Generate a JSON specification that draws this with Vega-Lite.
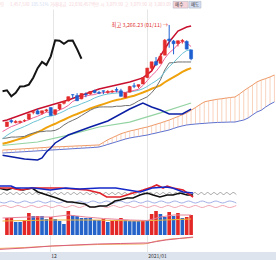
{
"$schema":"https://vega.github.io/schema/vega-lite/v6.json",
"padding":0,
"spacing":0,
"background":"white",
"config":{"view":{"stroke":null},"mark":{"invalid":"filter"},"line":{"invalid":"filter"},"rule":{"invalid":"filter"},"axis":{"domain":false,"ticks":false,"labels":false,"minExtent":0,"maxExtent":0,"gridColor":"#e6e6e6","gridWidth":1},"text":{"font":"Noto Sans CJK KR"}},
"resolve":{"scale":{"x":"independent","y":"independent","color":"independent"}},
"datasets":{
"hd":[{"col":0,"t":"량","k":"t"},{"col":3.33,"t":"1,457,530","k":"t"},{"col":10.33,"t":"105.51%","k":"r"},{"col":16.67,"t":"거래대금","k":"t"},{"col":23,"t":"22,830,457백만","k":"t"},{"col":33.5,"t":"시","k":"t"},{"col":35.33,"t":"3,079.90","k":"b"},{"col":41.5,"t":"고","k":"t"},{"col":43.33,"t":"3,079.90","k":"b"},{"col":49.5,"t":"저","k":"t"},{"col":51.33,"t":"3,003.09","k":"b"}],
"bt":[{"col":57.7,"col2":62.7,"t":"매수"},{"col":63,"col2":67,"t":"매도"}],
"cd":[{"i":0,"o":2509,"h":2543,"l":2505,"c":2543},{"i":1,"o":2553,"h":2563,"l":2533,"c":2544},{"i":2,"o":2538,"h":2556,"l":2532,"c":2546},{"i":3,"o":2540,"h":2553,"l":2531,"c":2547},{"i":4,"o":2553,"h":2562,"l":2542,"c":2554},{"i":5,"o":2564,"h":2602,"l":2560,"c":2603},{"i":6,"o":2615,"h":2630,"l":2600,"c":2618},{"i":7,"o":2625,"h":2640,"l":2600,"c":2602},{"i":8,"o":2608,"h":2626,"l":2596,"c":2626},{"i":9,"o":2625,"h":2640,"l":2616,"c":2633},{"i":10,"o":2650,"h":2650,"l":2591,"c":2591},{"i":11,"o":2600,"h":2634,"l":2592,"c":2634},{"i":12,"o":2640,"h":2676,"l":2630,"c":2676},{"i":13,"o":2682,"h":2699,"l":2673,"c":2696},{"i":14,"o":2700,"h":2731,"l":2695,"c":2731},{"i":15,"o":2746,"h":2748,"l":2720,"c":2745},{"i":16,"o":2739,"h":2757,"l":2700,"c":2701},{"i":17,"o":2715,"h":2756,"l":2712,"c":2755},{"i":18,"o":2750,"h":2763,"l":2727,"c":2746},{"i":19,"o":2752,"h":2772,"l":2745,"c":2770},{"i":20,"o":2776,"h":2783,"l":2756,"c":2762},{"i":21,"o":2762,"h":2775,"l":2750,"c":2757},{"i":22,"o":2775,"h":2776,"l":2750,"c":2772},{"i":23,"o":2763,"h":2780,"l":2753,"c":2770},{"i":24,"o":2767,"h":2782,"l":2760,"c":2772},{"i":25,"o":2785,"h":2800,"l":2763,"c":2779},{"i":26,"o":2775,"h":2790,"l":2733,"c":2734},{"i":27,"o":2726,"h":2760,"l":2725,"c":2760},{"i":28,"o":2765,"h":2812,"l":2763,"c":2807},{"i":29,"o":2812,"h":2834,"l":2795,"c":2809},{"i":30,"o":2808,"h":2821,"l":2794,"c":2821},{"i":31,"o":2826,"h":2878,"l":2826,"c":2873},{"i":32,"o":2874,"h":2946,"l":2869,"c":2944},{"i":33,"o":2943,"h":2990,"l":2921,"c":2991},{"i":34,"o":2993,"h":3027,"l":2961,"c":2968},{"i":35,"o":2980,"h":3055,"l":2980,"c":3032},{"i":36,"o":3041,"h":3161,"l":3040,"c":3152},{"i":37,"o":3161,"h":3266,"l":3096,"c":3148},{"i":38,"o":3145,"h":3154,"l":3047,"c":3126},{"i":39,"o":3128,"h":3150,"l":3106,"c":3148},{"i":40,"o":3145,"h":3161,"l":3127,"c":3150},{"i":41,"o":3143,"h":3151,"l":3085,"c":3086},{"i":42,"o":3080,"h":3080,"l":3003,"c":3014}],
"px":[
{"i":-1,"ma5":2471,"ma10":2418,"ma20":2380,"kij":2420,"ma60":2368,"bbu":2550,"bbl":2295,"chi":2772,"a":2333,"b":2311},
{"i":0,"ma5":2490,"ma10":2443,"ma20":2388,"kij":2423,"ma60":2371,"bbu":2557,"bbl":2289,"chi":2779,"a":2335,"b":2313},
{"i":1,"ma5":2508,"ma10":2463,"ma20":2397,"kij":2430,"chi":2734,"a":2337,"b":2315},
{"i":2,"ma5":2520,"ma10":2482,"ma20":2407,"kij":2430,"chi":2760,"a":2339,"b":2317},
{"i":3,"ma5":2535,"ma10":2495,"ma20":2417,"kij":2432,"chi":2807,"a":2341,"b":2319},
{"i":4,"ma5":2547,"ma10":2509,"ma20":2427,"kij":2435,"bbl":2266,"chi":2809,"a":2343,"b":2321},
{"i":5,"ma5":2559,"ma10":2524,"ma20":2440,"kij":2450,"chi":2821,"a":2345,"b":2323},
{"i":6,"ma5":2574,"ma10":2541,"ma20":2454,"kij":2460,"chi":2873,"a":2347,"b":2325},
{"i":7,"ma5":2585,"ma10":2553,"ma20":2467,"kij":2470,"ma60":2393,"bbu":2639,"bbl":2259,"chi":2944,"a":2349,"b":2327},
{"i":8,"ma5":2601,"ma10":2568,"ma20":2482,"kij":2470,"bbl":2274,"chi":2991,"a":2351,"b":2329},
{"i":9,"ma5":2616,"ma10":2582,"ma20":2500,"kij":2475,"bbl":2319,"chi":2968,"a":2353,"b":2331},
{"i":10,"ma5":2614,"ma10":2586,"ma20":2515,"kij":2475,"bbl":2348,"chi":3032,"a":2356,"b":2333},
{"i":11,"ma5":2617,"ma10":2595,"ma20":2529,"kij":2480,"bbl":2386,"chi":3152,"a":2357,"b":2335},
{"i":12,"ma5":2632,"ma10":2608,"ma20":2545,"kij":2495,"chi":3148,"a":2358,"b":2337},
{"i":13,"ma5":2646,"ma10":2623,"ma20":2559,"kij":2520,"chi":3126,"a":2359,"b":2339},
{"i":14,"ma5":2666,"ma10":2641,"ma20":2575,"kij":2540,"ma60":2445,"bbu":2706,"bbl":2445,"chi":3148,"a":2361,"b":2341},
{"i":15,"ma5":2696,"ma10":2655,"ma20":2590,"kij":2555,"chi":3150,"a":2362,"b":2343},
{"i":16,"ma5":2710,"ma10":2664,"ma20":2602,"kij":2570,"chi":3086,"a":2364,"b":2345},
{"i":17,"ma5":2726,"ma10":2679,"ma20":2616,"kij":2590,"chi":3014,"a":2365,"b":2347},
{"i":18,"ma5":2736,"ma10":2691,"ma20":2629,"kij":2610,"a":2367,"b":2349},
{"i":19,"ma5":2743,"ma10":2705,"ma20":2643,"kij":2630,"bbl":2505,"a":2368,"b":2351},
{"i":20,"ma5":2747,"ma10":2722,"ma20":2654,"kij":2645,"a":2370,"b":2353},
{"i":21,"ma5":2758,"ma10":2734,"ma20":2665,"kij":2654,"ma60":2505,"bbu":2789,"a":2371,"b":2356},
{"i":22,"ma5":2761,"ma10":2744,"ma20":2676,"kij":2655,"a":2390,"b":2365},
{"i":23,"ma5":2766,"ma10":2751,"ma20":2687,"kij":2655,"bbl":2550,"a":2410,"b":2375},
{"i":24,"ma5":2767,"ma10":2755,"ma20":2698,"kij":2655,"a":2425,"b":2385},
{"i":25,"ma5":2770,"ma10":2758,"ma20":2707,"kij":2660,"a":2440,"b":2395},
{"i":26,"ma5":2765,"ma10":2762,"ma20":2713,"kij":2660,"a":2455,"b":2405},
{"i":27,"ma5":2763,"ma10":2762,"ma20":2721,"kij":2665,"a":2465,"b":2415},
{"i":28,"ma5":2770,"ma10":2768,"ma20":2730,"kij":2665,"ma60":2542,"bbu":2841,"bbl":2639,"a":2475,"b":2423},
{"i":29,"ma5":2778,"ma10":2772,"ma20":2738,"kij":2680,"a":2482,"b":2429},
{"i":30,"ma5":2786,"ma10":2778,"ma20":2750,"kij":2700,"a":2490,"b":2434},
{"i":31,"ma5":2814,"ma10":2790,"ma20":2762,"kij":2715,"bbu":2871,"bbl":2684,"a":2498,"b":2440},
{"i":32,"ma5":2851,"ma10":2807,"ma20":2775,"kij":2730,"a":2505,"b":2445},
{"i":33,"ma5":2888,"ma10":2829,"ma20":2790,"kij":2760,"bbu":2923,"bbl":2654,"a":2515,"b":2453},
{"i":34,"ma5":2919,"ma10":2849,"ma20":2802,"kij":2800,"a":2525,"b":2460},
{"i":35,"ma5":2962,"ma10":2874,"ma20":2816,"kij":2856,"ma60":2610,"bbu":3035,"bbl":2632,"a":2535,"b":2468},
{"i":36,"ma5":3017,"ma10":2916,"ma20":2839,"kij":2930,"a":2546,"b":2475},
{"i":37,"ma5":3058,"ma10":2955,"ma20":2858,"kij":2983,"bbu":3139,"bbl":2602,"a":2557,"b":2483},
{"i":38,"ma5":3085,"ma10":2986,"ma20":2877,"kij":2985,"a":2570,"b":2494},
{"i":39,"ma5":3121,"ma10":3020,"ma20":2896,"kij":2990,"bbu":3221,"a":2583,"b":2505},
{"i":40,"ma5":3145,"ma10":3053,"ma20":2916,"kij":2990,"bbl":2602,"a":2596,"b":2513},
{"i":41,"ma5":3132,"ma10":3075,"ma20":2932,"kij":2990,"bbu":3251,"a":2610,"b":2520},
{"i":42,"ma5":3105,"ma10":3082,"ma20":2944,"kij":2990,"ma60":2684,"bbu":3258,"bbl":2639,"a":2630,"b":2524},
{"i":43,"a":2650,"b":2527},{"i":44,"a":2672,"b":2530},{"i":45,"a":2692,"b":2532},{"i":46,"a":2700,"b":2535},{"i":47,"a":2706,"b":2537},{"i":48,"a":2712,"b":2539},{"i":49,"a":2716,"b":2540},{"i":50,"a":2721,"b":2541},{"i":51,"a":2725,"b":2542},{"i":52,"a":2729,"b":2542},{"i":53,"a":2750,"b":2550},{"i":54,"a":2775,"b":2557},{"i":55,"a":2797,"b":2572},{"i":56,"a":2818,"b":2595},{"i":57,"a":2841,"b":2617},{"i":58,"a":2855,"b":2630},{"i":59,"a":2866,"b":2654},{"i":60,"a":2878,"b":2675},{"i":61,"a":2893,"b":2692}],
"ann":[{"i":37,"p":3266.23,"t":"최고 3,266.23 (01/11) →"}],
"ind":[
{"i":-1,"bl":92},{"i":2,"bl":92},{"i":3,"bl":84},{"i":5,"bl":84},{"i":7,"bl":84},{"i":10.6,"bl":76},{"i":14,"bl":84},{"i":17,"bl":80},{"i":21.5,"bl":84},{"i":25,"bl":84},{"i":29,"bl":72},{"i":30.4,"bl":68},{"i":33,"bl":84},{"i":36,"bl":88},{"i":37.5,"bl":84},{"i":39.8,"bl":68},{"i":42,"bl":64},
{"i":-1,"rd":84},{"i":2,"rd":84},{"i":4,"rd":76},{"i":7,"rd":84},{"i":10,"rd":84},{"i":12.7,"rd":84},{"i":15.6,"rd":80},{"i":18.7,"rd":76},{"i":21.5,"rd":64},{"i":23,"rd":48},{"i":26,"rd":48},{"i":28.8,"rd":64},{"i":31,"rd":76},{"i":33,"rd":88},{"i":34,"rd":96},{"i":35.4,"rd":84},{"i":36.3,"rd":92},{"i":37.6,"rd":84},{"i":39.8,"rd":76},{"i":42,"rd":48},
{"i":-1,"bk":84},{"i":1.1,"bk":76},{"i":2.4,"bk":84},{"i":4.6,"bk":76},{"i":6.6,"bk":84},{"i":7.9,"bk":68},{"i":9.9,"bk":56},{"i":12,"bk":44},{"i":14.3,"bk":28},{"i":15.4,"bk":28},{"i":16.7,"bk":24},{"i":18.2,"bk":20},{"i":19.3,"bk":8},{"i":20.4,"bk":8},{"i":21.5,"bk":12},{"i":23,"bk":12},{"i":24.2,"bk":24},{"i":24.8,"bk":32},{"i":25.9,"bk":36},{"i":27.5,"bk":44},{"i":28.8,"bk":44},{"i":30.3,"bk":56},{"i":31.9,"bk":64},{"i":33.2,"bk":56},{"i":34.7,"bk":48},{"i":36.3,"bk":56},{"i":37.6,"bk":56},{"i":39.1,"bk":64},{"i":40.7,"bk":56},{"i":42,"bk":56}],
"gw":[{"i":-1,"v":66},{"i":-0.3,"v":58},{"i":0.4,"v":66},{"i":1.1,"v":58},{"i":1.8,"v":66},{"i":2.5,"v":58},{"i":3.2,"v":66},{"i":3.9,"v":58},{"i":4.6,"v":66},{"i":5.3,"v":58},{"i":6,"v":66},{"i":6.7,"v":58},{"i":7.4,"v":66},{"i":8.1,"v":58},{"i":8.8,"v":66},{"i":9.5,"v":58},{"i":10.2,"v":66},{"i":10.9,"v":58},{"i":11.6,"v":66},{"i":12.3,"v":58},{"i":13,"v":66},{"i":13.7,"v":58},{"i":14.4,"v":66},{"i":15.1,"v":58},{"i":15.8,"v":66},{"i":16.5,"v":58},{"i":17.2,"v":66},{"i":17.9,"v":58},{"i":18.6,"v":66},{"i":19.3,"v":58},{"i":20,"v":66},{"i":20.7,"v":58},{"i":21.4,"v":66},{"i":22.1,"v":58},{"i":22.8,"v":66},{"i":23.5,"v":58},{"i":24.2,"v":66},{"i":24.9,"v":58},{"i":25.6,"v":66},{"i":26.3,"v":58},{"i":27,"v":66},{"i":27.7,"v":58},{"i":28.4,"v":66},{"i":29.1,"v":58},{"i":29.8,"v":66},{"i":30.5,"v":58},{"i":31.2,"v":66},{"i":31.9,"v":58},{"i":32.6,"v":66},{"i":33.3,"v":58},{"i":34,"v":66},{"i":34.7,"v":58},{"i":35.4,"v":66},{"i":36.1,"v":58},{"i":36.8,"v":66},{"i":37.5,"v":58},{"i":38.2,"v":66},{"i":38.9,"v":58},{"i":39.6,"v":66},{"i":40.3,"v":58},{"i":41,"v":66},{"i":41.7,"v":58},{"i":42.4,"v":66},{"i":43.1,"v":58},{"i":43.8,"v":66},{"i":44.5,"v":58},{"i":45.2,"v":66},{"i":45.9,"v":58},{"i":46.6,"v":66},{"i":47.3,"v":58},{"i":48,"v":66},{"i":48.7,"v":58},{"i":49.4,"v":66},{"i":50.1,"v":58},{"i":50.8,"v":66},{"i":51.5,"v":58}],
"wv":[{"i":-1,"b":32,"p":6},{"i":0.5,"b":24,"p":14},{"i":2,"b":32,"p":6},{"i":3.5,"b":24,"p":14},{"i":5,"b":32,"p":6},{"i":6.5,"b":24,"p":14},{"i":8,"b":32,"p":6},{"i":9.5,"b":24,"p":14},{"i":11,"b":32,"p":6},{"i":12.5,"b":24,"p":14},{"i":14,"b":32,"p":6},{"i":15.5,"b":24,"p":14},{"i":17,"b":32,"p":6},{"i":18.5,"b":24,"p":14},{"i":20,"b":32,"p":6},{"i":21.5,"b":24,"p":14},{"i":23,"b":32,"p":6},{"i":24.5,"b":24,"p":14},{"i":26,"b":32,"p":6},{"i":27.5,"b":24,"p":14},{"i":29,"b":32,"p":6},{"i":30.5,"b":24,"p":14},{"i":32,"b":32,"p":6},{"i":33.5,"b":24,"p":14},{"i":35,"b":32,"p":6},{"i":36.5,"b":24,"p":14},{"i":38,"b":32,"p":6},{"i":39.5,"b":24,"p":14},{"i":41,"b":32,"p":6},{"i":42.5,"b":24,"p":14},{"i":44,"b":32,"p":6},{"i":45.5,"b":24,"p":14},{"i":47,"b":32,"p":6},{"i":48.5,"b":24,"p":14},{"i":50,"b":32,"p":6},{"i":51.5,"b":24,"p":14}],
"vo":[{"i":0,"v":1238892,"u":1},{"i":1,"v":1238892,"u":1},{"i":2,"v":947388,"u":0},{"i":3,"v":947388,"u":0},{"i":4,"v":1093140,"u":1},{"i":5,"v":1603272,"u":1},{"i":6,"v":1384644,"u":0},{"i":7,"v":1384644,"u":1},{"i":8,"v":1384644,"u":0},{"i":9,"v":1166016,"u":0},{"i":10,"v":1311768,"u":1},{"i":11,"v":1166016,"u":0},{"i":12,"v":1020264,"u":0},{"i":13,"v":801636,"u":0},{"i":14,"v":1749024,"u":1},{"i":15,"v":1457530,"u":0},{"i":16,"v":1384644,"u":0},{"i":17,"v":1238892,"u":0},{"i":18,"v":1238892,"u":0},{"i":19,"v":1238892,"u":0},{"i":20,"v":1093140,"u":0},{"i":21,"v":1093140,"u":0},{"i":22,"v":1166016,"u":1},{"i":23,"v":947388,"u":0},{"i":24,"v":1020264,"u":1},{"i":25,"v":1093140,"u":1},{"i":26,"v":1238892,"u":1},{"i":27,"v":1093140,"u":0},{"i":28,"v":1020264,"u":0},{"i":29,"v":1020264,"u":0},{"i":30,"v":1020264,"u":0},{"i":31,"v":1020264,"u":1},{"i":32,"v":1020264,"u":0},{"i":33,"v":1530396,"u":1},{"i":34,"v":1749024,"u":1},{"i":35,"v":1530396,"u":0},{"i":36,"v":1311768,"u":0},{"i":37,"v":1676148,"u":1},{"i":38,"v":1384644,"u":0},{"i":39,"v":1603272,"u":1},{"i":40,"v":1238892,"u":0},{"i":41,"v":1311768,"u":1},{"i":42,"v":1457530,"u":1}],
"vm":[{"i":-1,"p":1238892,"o":1020264},{"i":5,"p":1311768},{"i":10,"p":1311768,"o":1093140},{"i":14,"p":1457530},{"i":18,"p":1311768},{"i":20,"o":1093140},{"i":22,"p":1202454},{"i":28,"p":1093140},{"i":30,"o":1020264},{"i":32,"p":1056702},{"i":35,"p":1311768},{"i":36,"o":1093140},{"i":38,"p":1457530},{"i":42,"p":1457530,"o":1166016}],
"lw":[{"i":-1,"p":25,"o":35},{"i":5,"p":40,"o":45},{"i":11,"p":60,"o":60},{"i":16,"p":70},{"i":21,"p":80,"o":75},{"i":26,"p":85},{"i":31,"p":90,"o":80},{"i":32,"p":90,"o":85},{"i":34,"p":105,"o":110},{"i":36,"p":120},{"i":37,"o":130},{"i":39,"p":135},{"i":42,"p":150,"o":145}],
"lb":[{"i":10.6,"t":"12"},{"i":31.9,"t":"2021/01"}]
},
"vconcat":[
{"width":276,"height":9,
 "layer":[
  {"data":{"name":"bt"},"mark":{"type":"rect","stroke":"#a9b0bd","strokeWidth":0.5},
   "encoding":{"x":{"field":"col","type":"quantitative","scale":{"domain":[0,92],"nice":false,"zero":false},"axis":null},"x2":{"field":"col2"},
   "y":{"datum":0.1,"type":"quantitative","scale":{"domain":[0,1],"nice":false,"zero":false},"axis":null},"y2":{"datum":0.85},
   "color":{"field":"t","type":"nominal","scale":{"domain":["매수","매도"],"range":["#f6d3d8","#d3def2"]},"legend":null}}},
  {"data":{"name":"bt"},"mark":{"type":"text","align":"left","baseline":"middle","dx":2,"fontSize":4.4,"color":"#333"},
   "encoding":{"x":{"field":"col","type":"quantitative","scale":{"domain":[0,92],"nice":false,"zero":false},"axis":null},
   "y":{"datum":0.47,"type":"quantitative","scale":{"domain":[0,1],"nice":false,"zero":false},"axis":null},"text":{"field":"t"}}},
  {"data":{"name":"hd"},"mark":{"type":"text","align":"left","baseline":"middle","fontSize":4.4},
   "encoding":{"x":{"field":"col","type":"quantitative","scale":{"domain":[0,92],"nice":false,"zero":false},"axis":null},
   "y":{"datum":0.47,"type":"quantitative","scale":{"domain":[0,1],"nice":false,"zero":false},"axis":null},"text":{"field":"t"},
   "color":{"field":"k","type":"nominal","scale":{"domain":["t","r","b"],"range":["#333333","#e0262b","#2a48c6"]},"legend":null}}}
 ]},
{"width":276,"height":175,
 "encoding":{"x":{"field":"i","type":"quantitative","scale":{"domain":[-0.44,60.22],"nice":false,"zero":false},"axis":{"grid":true,"values":[10.6,31.9],"title":null}}},
 "layer":[
  {"data":{"name":"px"},"mark":{"type":"rule","color":"#f7c0a2","strokeWidth":0.7,"clip":true},
   "encoding":{"y":{"field":"a","type":"quantitative","scale":{"domain":[2080,3385],"nice":false,"zero":false},"axis":{"grid":true,"values":[2100,2200,2300,2400,2500,2600,2700,2800,2900,3000,3100,3200,3300],"title":null}},"y2":{"field":"b"}}},
  {"data":{"name":"px"},"mark":{"type":"line","color":"#ee9a68","strokeWidth":1,"clip":true,"invalid":"filter"},
   "encoding":{"y":{"field":"a","type":"quantitative","scale":{"domain":[2080,3385],"nice":false,"zero":false},"axis":null}}},
  {"data":{"name":"px"},"mark":{"type":"line","color":"#5f72cf","strokeWidth":1,"clip":true,"invalid":"filter"},
   "encoding":{"y":{"field":"b","type":"quantitative","scale":{"domain":[2080,3385],"nice":false,"zero":false},"axis":null}}},
  {"data":{"name":"px"},"mark":{"type":"line","color":"#93d3a2","strokeWidth":1.2,"clip":true,"invalid":"filter"},
   "encoding":{"y":{"field":"ma60","type":"quantitative","scale":{"domain":[2080,3385],"nice":false,"zero":false},"axis":null}}},
  {"data":{"name":"px"},"mark":{"type":"line","color":"#0b1fa5","strokeWidth":1.5,"clip":true,"invalid":"filter"},
   "encoding":{"y":{"field":"bbl","type":"quantitative","scale":{"domain":[2080,3385],"nice":false,"zero":false},"axis":null}}},
  {"data":{"name":"px"},"mark":{"type":"line","color":"#efa20c","strokeWidth":2,"clip":true,"invalid":"filter"},
   "encoding":{"y":{"field":"ma20","type":"quantitative","scale":{"domain":[2080,3385],"nice":false,"zero":false},"axis":null}}},
  {"data":{"name":"px"},"mark":{"type":"line","color":"#707070","strokeWidth":1,"clip":true,"invalid":"filter"},
   "encoding":{"y":{"field":"kij","type":"quantitative","scale":{"domain":[2080,3385],"nice":false,"zero":false},"axis":null}}},
  {"data":{"name":"px"},"mark":{"type":"line","color":"#6cc3d5","strokeWidth":1,"clip":true,"invalid":"filter"},
   "encoding":{"y":{"field":"ma10","type":"quantitative","scale":{"domain":[2080,3385],"nice":false,"zero":false},"axis":null}}},
  {"data":{"name":"px"},"mark":{"type":"line","color":"#f0639a","strokeWidth":1,"clip":true,"invalid":"filter"},
   "encoding":{"y":{"field":"ma5","type":"quantitative","scale":{"domain":[2080,3385],"nice":false,"zero":false},"axis":null}}},
  {"data":{"name":"px"},"mark":{"type":"line","color":"#c8102e","strokeWidth":1.5,"clip":true,"invalid":"filter"},
   "encoding":{"y":{"field":"bbu","type":"quantitative","scale":{"domain":[2080,3385],"nice":false,"zero":false},"axis":null}}},
  {"data":{"name":"px"},"mark":{"type":"line","color":"#151515","strokeWidth":2,"clip":true,"invalid":"filter"},
   "encoding":{"y":{"field":"chi","type":"quantitative","scale":{"domain":[2080,3385],"nice":false,"zero":false},"axis":null}}},
  {"data":{"name":"cd"},"mark":{"type":"rule","strokeWidth":1,"clip":true},
   "encoding":{"y":{"field":"l","type":"quantitative","scale":{"domain":[2080,3385],"nice":false,"zero":false},"axis":null},"y2":{"field":"h"},
   "color":{"condition":{"test":"datum.c >= datum.o","value":"#e32b2b"},"value":"#1d5fd0"}}},
  {"data":{"name":"cd"},"mark":{"type":"bar","size":3,"strokeWidth":0.6,"clip":true},
   "encoding":{"y":{"field":"o","type":"quantitative","scale":{"domain":[2080,3385],"nice":false,"zero":false},"axis":null},"y2":{"field":"c"},
   "color":{"condition":{"test":"datum.c >= datum.o","value":"#e32b2b"},"value":"#1d5fd0"},
   "stroke":{"condition":{"test":"datum.c >= datum.o","value":"#e32b2b"},"value":"#1d5fd0"}}},
  {"data":{"name":"ann"},"mark":{"type":"text","align":"right","baseline":"middle","dx":-1,"fontSize":5.3,"color":"#e0302a","clip":true},
   "encoding":{"y":{"field":"p","type":"quantitative","scale":{"domain":[2080,3385],"nice":false,"zero":false},"axis":null},"text":{"field":"t"}}}
 ]},
{"width":276,"height":25,
 "encoding":{"x":{"field":"i","type":"quantitative","scale":{"domain":[-0.44,60.22],"nice":false,"zero":false},"axis":{"grid":true,"values":[10.6,31.9],"title":null}}},
 "layer":[
  {"data":{"name":"gw"},"mark":{"type":"line","color":"#8a8a8a","strokeWidth":0.8,"interpolate":"monotone","clip":true,"invalid":"filter"},
   "encoding":{"y":{"field":"v","type":"quantitative","scale":{"domain":[0,100],"nice":false,"zero":false},"axis":null}}},
  {"data":{"name":"wv"},"mark":{"type":"line","color":"#8b9be0","strokeWidth":0.8,"interpolate":"monotone","clip":true,"invalid":"filter"},
   "encoding":{"y":{"field":"b","type":"quantitative","scale":{"domain":[0,100],"nice":false,"zero":false},"axis":null}}},
  {"data":{"name":"wv"},"mark":{"type":"line","color":"#ec8f9f","strokeWidth":0.8,"interpolate":"monotone","clip":true,"invalid":"filter"},
   "encoding":{"y":{"field":"p","type":"quantitative","scale":{"domain":[0,100],"nice":false,"zero":false},"axis":null}}},
  {"data":{"name":"ind"},"mark":{"type":"line","color":"#111111","strokeWidth":1.6,"clip":true,"invalid":"filter"},
   "encoding":{"y":{"field":"bk","type":"quantitative","scale":{"domain":[0,100],"nice":false,"zero":false},"axis":null}}},
  {"data":{"name":"ind"},"mark":{"type":"line","color":"#e0222a","strokeWidth":1.6,"clip":true,"invalid":"filter"},
   "encoding":{"y":{"field":"rd","type":"quantitative","scale":{"domain":[0,100],"nice":false,"zero":false},"axis":null}}},
  {"data":{"name":"ind"},"mark":{"type":"line","color":"#1428c8","strokeWidth":1.6,"clip":true,"invalid":"filter"},
   "encoding":{"y":{"field":"bl","type":"quantitative","scale":{"domain":[0,100],"nice":false,"zero":false},"axis":null}}},
  {"mark":{"type":"rule","color":"#d2d2d2","strokeWidth":3,"clip":true},"encoding":{"y":{"datum":100,"type":"quantitative","scale":{"domain":[0,100],"nice":false,"zero":false},"axis":null}}}
 ]},
{"width":276,"height":26,
 "encoding":{"x":{"field":"i","type":"quantitative","scale":{"domain":[-0.44,60.22],"nice":false,"zero":false},"axis":{"grid":true,"values":[10.6,31.9],"title":null}}},
 "layer":[
  {"data":{"name":"vo"},"mark":{"type":"bar","size":3.6,"clip":true},
   "encoding":{"y":{"field":"v","type":"quantitative","scale":{"domain":[0,1894776],"nice":false,"zero":true},"axis":{"grid":true,"values":[0,947388,1894776],"title":null}},
   "color":{"condition":{"test":"datum.u == 1","value":"#e32626"},"value":"#2563c9"}}},
  {"data":{"name":"vm"},"mark":{"type":"line","color":"#f0b43c","strokeWidth":1,"clip":true,"invalid":"filter"},
   "encoding":{"y":{"field":"o","type":"quantitative","scale":{"domain":[0,1894776],"nice":false,"zero":true},"axis":null}}},
  {"data":{"name":"vm"},"mark":{"type":"line","color":"#e8849a","strokeWidth":1,"clip":true,"invalid":"filter"},
   "encoding":{"y":{"field":"p","type":"quantitative","scale":{"domain":[0,1894776],"nice":false,"zero":true},"axis":null}}}
 ]},
{"width":276,"height":17,
 "encoding":{"x":{"field":"i","type":"quantitative","scale":{"domain":[-0.44,60.22],"nice":false,"zero":false},"axis":{"grid":true,"values":[10.6,31.9],"title":null}}},
 "layer":[
  {"data":{"name":"lw"},"mark":{"type":"line","color":"#f2b266","strokeWidth":1,"clip":true,"invalid":"filter"},
   "encoding":{"y":{"field":"o","type":"quantitative","scale":{"domain":[0,170],"nice":false,"zero":false},"axis":{"grid":true,"values":[120],"title":null}}}},
  {"data":{"name":"lw"},"mark":{"type":"line","color":"#d9607e","strokeWidth":1,"clip":true,"invalid":"filter"},
   "encoding":{"y":{"field":"p","type":"quantitative","scale":{"domain":[0,170],"nice":false,"zero":false},"axis":null}}}
 ]},
{"width":276,"height":8,"view":{"fill":"#dde4ee","stroke":null},
 "data":{"name":"lb"},
 "mark":{"type":"text","align":"left","baseline":"middle","dx":1,"fontSize":5,"color":"#333"},
 "encoding":{"x":{"field":"i","type":"quantitative","scale":{"domain":[-0.44,60.22],"nice":false,"zero":false},"axis":null},
  "y":{"datum":0.5,"type":"quantitative","scale":{"domain":[0,1]},"axis":null},"text":{"field":"t"}}}
]
}
